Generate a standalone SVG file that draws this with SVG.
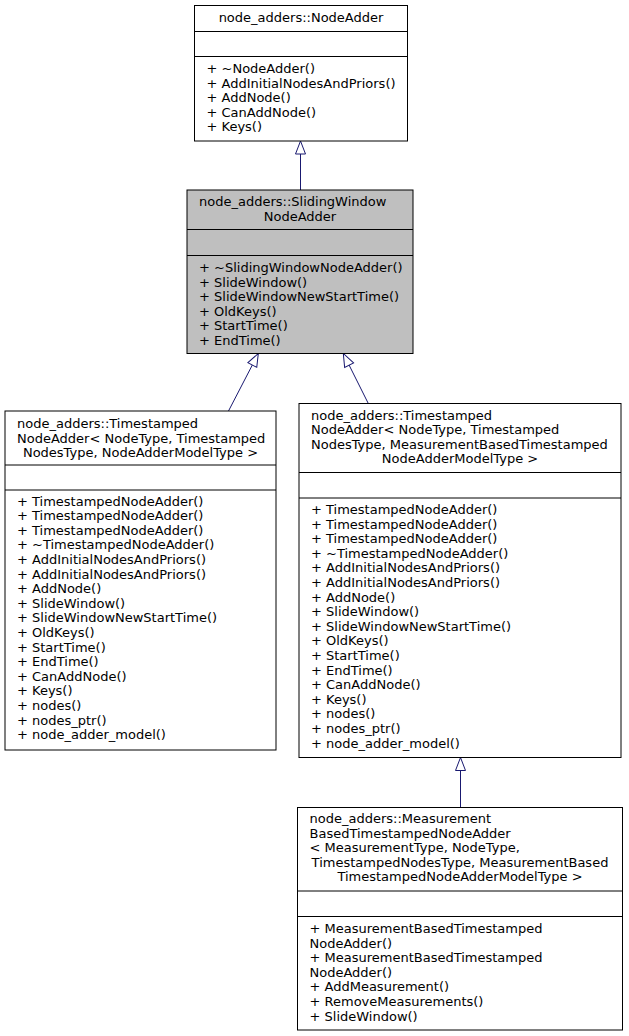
<svg xmlns="http://www.w3.org/2000/svg" width="629" height="1036" viewBox="0 0 629 1036">
<style>
.box{fill:#ffffff;stroke:#000000;stroke-width:1}
.cur{fill:#bfbfbf;stroke:#000000;stroke-width:1}
.sep{stroke:#000000;stroke-width:1}
text{font-family:"DejaVu Sans","Liberation Sans",sans-serif;font-size:13px;fill:#000000}
.c{text-anchor:middle}
.edge{fill:none;stroke:#191970;stroke-width:1}
</style>
<defs>
<marker id="inh" viewBox="0 0 13 10" refX="13" refY="5" markerWidth="13" markerHeight="10" markerUnits="userSpaceOnUse" orient="auto" overflow="visible">
<path d="M0,0 L13,5 L0,10 Z" fill="#ffffff" stroke="#191970" stroke-width="1"/>
</marker>
</defs>
<rect width="629" height="1036" fill="#ffffff"/>
<g id="edges">
<path class="edge" d="M300.5,190 L300.5,141" marker-end="url(#inh)"/>
<path class="edge" d="M228.5,411 L258.3,353.5" marker-end="url(#inh)"/>
<path class="edge" d="M368.3,403.5 L343.3,353.5" marker-end="url(#inh)"/>
<path class="edge" d="M460.5,807.5 L460.5,757.5" marker-end="url(#inh)"/>
</g>
<g id="NodeAdder">
<rect class="box" x="194.5" y="5.5" width="213" height="135.5"/>
<line class="sep" x1="194.5" y1="31.5" x2="407.5" y2="31.5"/>
<line class="sep" x1="194.5" y1="56.5" x2="407.5" y2="56.5"/>
<text class="c" x="301" y="22">node_adders::NodeAdder</text>
<text x="206.5" y="73">+ ~NodeAdder()</text>
<text x="206.5" y="87.6">+ AddInitialNodesAndPriors()</text>
<text x="206.5" y="102.2">+ AddNode()</text>
<text x="206.5" y="116.8">+ CanAddNode()</text>
<text x="206.5" y="131.4">+ Keys()</text>
</g>
<g id="SlidingWindowNodeAdder">
<rect class="cur" x="187" y="190" width="226" height="163.5"/>
<line class="sep" x1="187" y1="229.5" x2="413" y2="229.5"/>
<line class="sep" x1="187" y1="255.5" x2="413" y2="255.5"/>
<text x="199" y="206">node_adders::SlidingWindow</text>
<text class="c" x="300" y="220.6">NodeAdder</text>
<text x="199" y="272">+ ~SlidingWindowNodeAdder()</text>
<text x="199" y="286.6">+ SlideWindow()</text>
<text x="199" y="301.2">+ SlideWindowNewStartTime()</text>
<text x="199" y="315.8">+ OldKeys()</text>
<text x="199" y="330.4">+ StartTime()</text>
<text x="199" y="345">+ EndTime()</text>
</g>
<g id="TimestampedNodeAdder1">
<rect class="box" x="5" y="411" width="271" height="339"/>
<line class="sep" x1="5" y1="465" x2="276" y2="465"/>
<line class="sep" x1="5" y1="490" x2="276" y2="490"/>
<text x="17" y="428">node_adders::Timestamped</text>
<text x="17" y="442.6">NodeAdder&lt; NodeType, Timestamped</text>
<text class="c" x="140.5" y="457.2">NodesType, NodeAdderModelType &gt;</text>
<text x="17" y="505.5">+ TimestampedNodeAdder()</text>
<text x="17" y="520.1">+ TimestampedNodeAdder()</text>
<text x="17" y="534.7">+ TimestampedNodeAdder()</text>
<text x="17" y="549.3">+ ~TimestampedNodeAdder()</text>
<text x="17" y="563.9">+ AddInitialNodesAndPriors()</text>
<text x="17" y="578.5">+ AddInitialNodesAndPriors()</text>
<text x="17" y="593.1">+ AddNode()</text>
<text x="17" y="607.7">+ SlideWindow()</text>
<text x="17" y="622.3">+ SlideWindowNewStartTime()</text>
<text x="17" y="636.9">+ OldKeys()</text>
<text x="17" y="651.5">+ StartTime()</text>
<text x="17" y="666.1">+ EndTime()</text>
<text x="17" y="680.7">+ CanAddNode()</text>
<text x="17" y="695.3">+ Keys()</text>
<text x="17" y="709.9">+ nodes()</text>
<text x="17" y="724.5">+ nodes_ptr()</text>
<text x="17" y="739.1">+ node_adder_model()</text>
</g>
<g id="TimestampedNodeAdder2">
<rect class="box" x="299" y="403.5" width="322" height="354"/>
<line class="sep" x1="299" y1="472.5" x2="621" y2="472.5"/>
<line class="sep" x1="299" y1="498" x2="621" y2="498"/>
<text x="311" y="419.5">node_adders::Timestamped</text>
<text x="311" y="434.1">NodeAdder&lt; NodeType, Timestamped</text>
<text x="311" y="448.7">NodesType, MeasurementBasedTimestamped</text>
<text class="c" x="460" y="463.3">NodeAdderModelType &gt;</text>
<text x="311" y="514">+ TimestampedNodeAdder()</text>
<text x="311" y="528.6">+ TimestampedNodeAdder()</text>
<text x="311" y="543.2">+ TimestampedNodeAdder()</text>
<text x="311" y="557.8">+ ~TimestampedNodeAdder()</text>
<text x="311" y="572.4">+ AddInitialNodesAndPriors()</text>
<text x="311" y="587">+ AddInitialNodesAndPriors()</text>
<text x="311" y="601.6">+ AddNode()</text>
<text x="311" y="616.2">+ SlideWindow()</text>
<text x="311" y="630.8">+ SlideWindowNewStartTime()</text>
<text x="311" y="645.4">+ OldKeys()</text>
<text x="311" y="660">+ StartTime()</text>
<text x="311" y="674.6">+ EndTime()</text>
<text x="311" y="689.2">+ CanAddNode()</text>
<text x="311" y="703.8">+ Keys()</text>
<text x="311" y="718.4">+ nodes()</text>
<text x="311" y="733">+ nodes_ptr()</text>
<text x="311" y="747.6">+ node_adder_model()</text>
</g>
<g id="MeasurementBasedTimestampedNodeAdder">
<rect class="box" x="297.5" y="807.5" width="325" height="222.5"/>
<line class="sep" x1="297.5" y1="891" x2="622.5" y2="891"/>
<line class="sep" x1="297.5" y1="916.5" x2="622.5" y2="916.5"/>
<text x="309.5" y="823">node_adders::Measurement</text>
<text x="309.5" y="837.6">BasedTimestampedNodeAdder</text>
<text x="309.5" y="852.2">&lt; MeasurementType, NodeType,</text>
<text class="c" x="460" y="866.8">TimestampedNodesType, MeasurementBased</text>
<text class="c" x="460" y="881.4">TimestampedNodeAdderModelType &gt;</text>
<text x="309.5" y="933">+ MeasurementBasedTimestamped</text>
<text x="309.5" y="947.6">NodeAdder()</text>
<text x="309.5" y="962.2">+ MeasurementBasedTimestamped</text>
<text x="309.5" y="976.8">NodeAdder()</text>
<text x="309.5" y="991.4">+ AddMeasurement()</text>
<text x="309.5" y="1006">+ RemoveMeasurements()</text>
<text x="309.5" y="1020.6">+ SlideWindow()</text>
</g>
</svg>
